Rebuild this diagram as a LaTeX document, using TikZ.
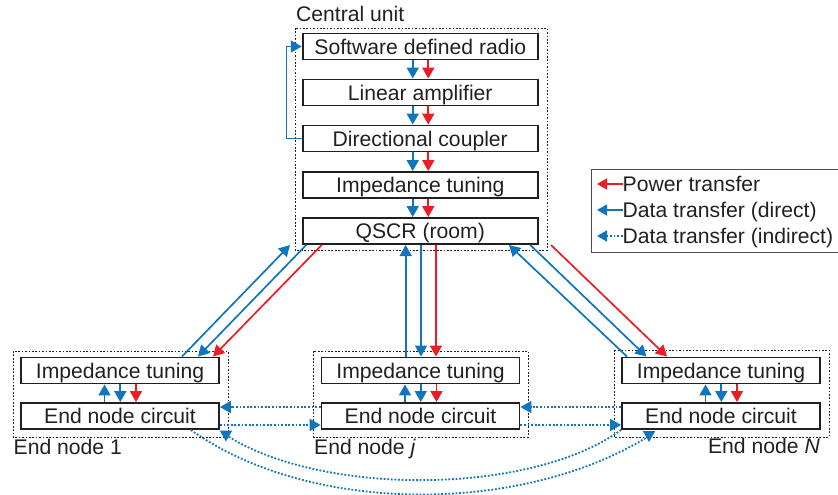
\documentclass[tikz,border=0pt]{standalone}
\usepackage{fontspec}
\setmainfont{Liberation Sans}
\usetikzlibrary{arrows.meta,calc}
\definecolor{dblue}{HTML}{0F75BC}
\definecolor{dred}{HTML}{ED1C24}
\definecolor{ink}{HTML}{231F20}
\tikzset{
  x=1pt,y=-1pt,
  box/.style={draw=ink,line width=1.9pt,minimum height=26pt,inner sep=0pt,text=ink,font=\fontsize{21.15}{21.15}\selectfont,text depth=0pt},
  cbox/.style={box,minimum width=235pt},
  ebox/.style={box,minimum width=198pt},
  group/.style={draw=ink,line width=0.85pt,dash pattern=on 1.7pt off 1.7pt},
  lab/.style={inner sep=0pt,text=ink,font=\fontsize{21.15}{21.15}\selectfont},
  bluearr/.style={draw=dblue,line width=1.7pt,-{Triangle[length=11pt,width=12pt]}},
  redarr/.style={draw=dred,line width=1.7pt,-{Triangle[length=11pt,width=12pt]}},
  dotarr/.style={draw=dblue,line width=1.8pt,dash pattern=on 1.8pt off 1.8pt,-{Triangle[length=11pt,width=12pt,fill=dblue]}},
  legarr/.style={line width=1.7pt,-{Triangle[length=10pt,width=11pt]}},
}
\begin{document}
\begin{tikzpicture}
\useasboundingbox (0,0) rectangle (838,495);
% group frames
\draw[group] (295,28) rectangle (547,250);
\draw[group] (13,351) rectangle (228,437);
\draw[group] (313.5,351) rectangle (528,437);
\draw[group] (614,350) rectangle (829,437);
\node[lab,anchor=base west] (lc) at (296,22) {Central unit};
\node[lab,anchor=base west] (l1) at (13.5,454) {End node 1};
\node[lab,anchor=base west] (lj) at (314,454) {End node \textit{j}};
\node[lab,anchor=base east] (ln) at (820,453) {End node \textit{N}};
% central unit
\node[cbox] (sdr) at (420.25,46.5) {Software defined radio};
\node[cbox] (amp) at (420.25,92.5) {Linear amplifier};
\node[cbox] (dc) at (420.25,138.5) {Directional coupler};
\node[cbox] (it) at (420.25,185) {Impedance tuning};
\node[cbox] (q) at (420.25,231) {QSCR (room)};
% end nodes
\node[ebox] (it1) at (120,370.5) {Impedance tuning};
\node[ebox] (en1) at (120,416) {End node circuit};
\node[ebox] (itj) at (420.5,370.5) {Impedance tuning};
\node[ebox] (enj) at (420.5,416) {End node circuit};
\node[ebox] (itn) at (721,370.5) {Impedance tuning};
\node[ebox] (enn) at (721,416) {End node circuit};
% central vertical arrows
\foreach \a/\b in {sdr/amp,amp/dc,dc/it,it/q}{
  \draw[bluearr] ($(\a.south)+(-7.5,0)$) -- ($(\b.north)+(-7.5,0)$);
  \draw[redarr] ($(\a.south)+(8,0)$) -- ($(\b.north)+(8,0)$);
}
% feedback
\draw[bluearr] (dc.west) -- (286.5,138.5) -- (286.5,46.5) -- (sdr.west);
% local end node arrows
\foreach \a/\b in {it1/en1,itj/enj,itn/enn}{
  \draw[bluearr] ($(\b.north)+(-15.5,0)$) -- ($(\a.south)+(-15.5,0)$);
  \draw[bluearr] ($(\a.south)+(0.3,0)$) -- ($(\b.north)+(0.3,0)$);
  \draw[redarr] ($(\a.south)+(16,0)$) -- ($(\b.north)+(16,0)$);
}
% diagonal links, left
\coordinate (up1) at (290,245);
\coordinate (upn) at (509,245);
\coordinate (upj) at (405.7,245);
\draw[bluearr] ($(it1.north)+(62,0)$) -- (up1);
\draw[bluearr] ($(q.south)+(-114,0)$) -- ($(it1.north)+(78,0)$);
\draw[redarr] ($(q.south)+(-98.5,0)$) -- ($(it1.north)+(93,0)$);
% middle
\draw[bluearr] (itj.north -| upj) -- (upj);
\draw[bluearr] ($(q.south)+(0.7,0)$) -- ($(itj.north)+(0.5,0)$);
\draw[redarr] ($(q.south)+(15.7,0)$) -- ($(itj.north)+(15.5,0)$);
% right
\coordinate (rs) at (551,245);
\draw[bluearr] ($(itn.north)+(-94,0)$) -- (upn);
\draw[bluearr] ($(q.south)+(110,0)$) -- ($(itn.north)+(-74.5,0)$);
\draw[redarr] (rs) -- ($(itn.north)+(-54,0)$);
% indirect links
\draw[dotarr] ($(enn.north west)+(0,5)$) -- ($(enj.north east)+(0,5)$);
\draw[dotarr] ($(enj.north west)+(0,5)$) -- ($(en1.north east)+(0,5)$);
\draw[dotarr] ($(en1.south east)+(0,-5)$) -- ($(enj.south west)+(0,-5)$);
\draw[dotarr] ($(enj.south east)+(0,-5)$) -- ($(enn.south west)+(0,-5)$);
\draw[dotarr] (enn.south west) .. controls (530,496) and (320,496) .. (226,435) -- (226,441.5);
\draw[dotarr] ($(en1.south east)+(-29,0)$) .. controls (310,515) and (522,515) .. (649,436) -- (649,442);
% legend
\node[draw=ink!80,line width=1pt,minimum width=251pt,minimum height=83.5pt,inner sep=0pt] (leg) at (716.5,211) {};
\node[lab,anchor=base west] (t1) at (622.5,191) {Power transfer};
\node[lab,anchor=base west] (t2) at (622.5,217) {Data transfer (direct)};
\node[lab,anchor=base west] (t3) at (622.5,243) {Data transfer (indirect)};
\coordinate (a1) at (597,184);
\coordinate (a2) at (597,210);
\coordinate (a3) at (597,236);
\draw[legarr,draw=dred] (t1.west |- a1) -- (a1);
\draw[legarr,draw=dblue] (t2.west |- a2) -- (a2);
\draw[draw=dblue,line width=1.7pt,dash pattern=on 1.8pt off 1.8pt,-{Triangle[length=10pt,width=11pt,fill=dblue]}] (t3.west |- a3) -- (a3);
\end{tikzpicture}
\end{document}
